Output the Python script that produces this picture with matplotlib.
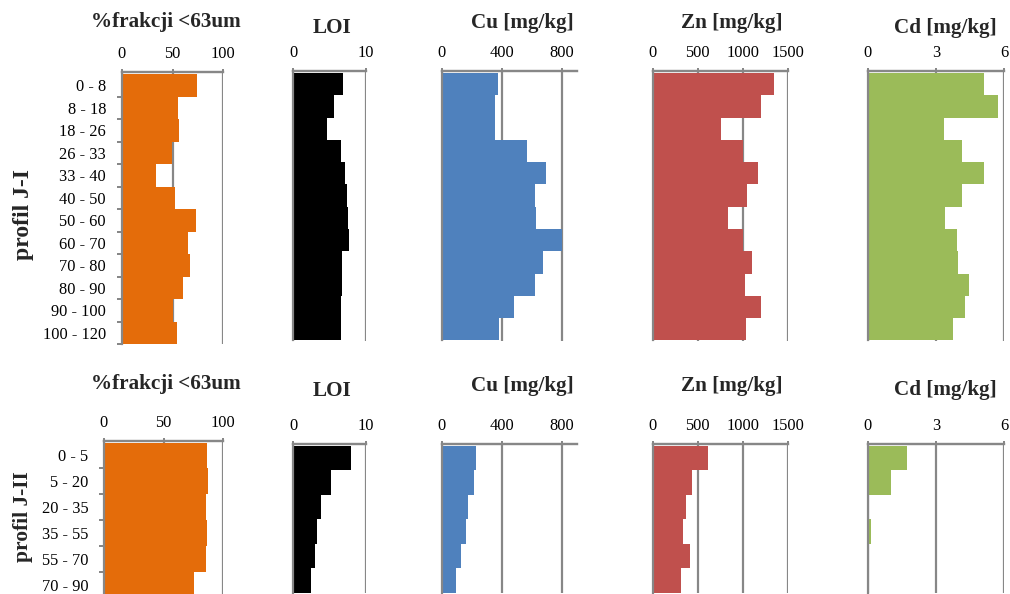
import matplotlib
matplotlib.use("Agg")
import matplotlib.pyplot as plt
import numpy as np

plt.rcParams['font.family'] = ['Liberation Serif', 'DejaVu Serif']

W, H = 1010, 594

# ---------------- data ----------------
cats1 = ["0 - 8", "8 - 18", "18 - 26", "26 - 33", "33 - 40", "40 - 50",
         "50 - 60", "60 - 70", "70 - 80", "80 - 90", "90 - 100", "100 - 120"]
frak1 = [73.8, 55.7, 56.1, 49.2, 34.1, 52.5, 72.8, 65.0, 67.2, 60.6, 50.8, 54.1]
loi1 = [6.9, 5.6, 4.7, 6.6, 7.15, 7.4, 7.55, 7.7, 6.65, 6.75, 6.6, 6.5]
cu1 = [372, 357, 357, 569, 691, 622, 624, 800, 676, 622, 483, 383]
zn1 = [1348, 1197, 757, 1005, 1171, 1042, 831, 997, 1101, 1023, 1197, 1031]
cd1 = [5.13, 5.72, 3.35, 4.16, 5.10, 4.16, 3.40, 3.91, 3.97, 4.47, 4.29, 3.75]

cats2 = ["0 - 5", "5 - 20", "20 - 35", "35 - 55", "55 - 70", "70 - 90"]
frak2 = [86.3, 87.2, 85.2, 86.3, 85.8, 75.4]
loi2 = [7.9, 5.2, 3.77, 3.25, 3.05, 2.4]
cu2 = [229, 213, 175, 159, 130, 95]
zn2 = [609, 435, 371, 339, 408, 313]
cd2 = [1.73, 1.03, 0.0, 0.15, 0.0, 0.0]

titles = ["%frakcji <63um", "LOI", "Cu [mg/kg]", "Zn [mg/kg]", "Cd [mg/kg]"]
xlims = [100, 10, 900, 1500, 6]
xticks = [[0, 50, 100], [0, 10], [0, 400, 800], [0, 500, 1000, 1500], [0, 3, 6]]
colors = ["#E46C0A", "#000000", "#4F81BD", "#C0504D", "#9BBB59"]
row_labels = ["profil J-I", "profil J-II"]

GRAY = "#878787"
PT = 72.0 / 100.0  # points per pixel


def panel(left, right, spine_top, cat_top, bottom, values, xmax, ticks, color, labels=None):
    n = len(values)
    ax = fig.add_axes([left / W, 1 - bottom / H, (right - left) / W, (bottom - spine_top) / H])
    s = (bottom - cat_top) / n
    pos = np.arange(n)
    ax.barh(pos, values, height=1.0, color=color, linewidth=0, zorder=2)
    ax.set_xlim(0, xmax)
    ax.set_ylim(n - 0.5, -0.5 - (cat_top - spine_top) / s)
    ax.set_axisbelow(True)
    for sp in ("right", "bottom"):
        ax.spines[sp].set_visible(False)
    ax.spines["top"].set_color(GRAY)
    ax.spines["top"].set_linewidth(2.4 * PT)
    ax.spines["left"].set_color(GRAY)
    ax.spines["left"].set_linewidth(2.2 * PT)
    ax.xaxis.tick_top()
    ax.set_xticks(ticks)
    ax.set_xticklabels([str(t) for t in ticks])
    ax.tick_params(axis="x", which="major", top=True, bottom=False, length=3 * PT * 1.0,
                   width=2 * PT, color=GRAY, pad=5, labelsize=11.8, labelcolor="black")
    ax.grid(axis="x", color=GRAY, linewidth=2.2 * PT)
    ax.grid(axis="y", visible=False)
    if labels is not None:
        ax.set_yticks(pos)
        ax.set_yticklabels(labels)
        ax.set_yticks(np.arange(n) + 0.5, minor=True)
        ax.tick_params(axis="y", which="major", length=0, pad=11.3, labelsize=11.8)
        ax.tick_params(axis="y", which="minor", length=5 * PT, width=2 * PT, color=GRAY, left=True)
    else:
        ax.set_yticks([])
    return ax


fig = plt.figure(figsize=(W / 100, H / 100), dpi=100)

# column geometry (pixel positions of 0 and xmax)
cols = [None, (293.3, 366.0), (441.7, 577.0), (652.7, 788.0), (868.0, 1004.0)]

# row 1
row1 = [frak1, loi1, cu1, zn1, cd1]
panel(121.7, 223.3, 71.7, 74.2, 344.0, row1[0], xlims[0], xticks[0], colors[0], cats1)
for i in range(1, 5):
    panel(cols[i][0], cols[i][1], 71.0, 73.0, 340.5, row1[i], xlims[i], xticks[i], colors[i])

# row 2
row2 = [frak2, loi2, cu2, zn2, cd2]
panel(104.0, 223.3, 440.7, 442.5, 597.5, row2[0], xlims[0], xticks[0], colors[0], cats2)
for i in range(1, 5):
    panel(cols[i][0], cols[i][1], 444.0, 445.5, 592.5, row2[i], xlims[i], xticks[i], colors[i])

# titles
tx = [166, 332, 522, 732, 945.5]
ty1 = [27.5, 33.3, 27.7, 28.3, 33.3]
ty2 = [389.3, 396, 391, 391, 395]
for t, x, y1, y2 in zip(titles, tx, ty1, ty2):
    fig.text(x / W, 1 - y1 / H, t, ha="center", va="baseline", fontsize=15.2,
             fontweight="bold", color="#262626")
    fig.text(x / W, 1 - y2 / H, t, ha="center", va="baseline", fontsize=15.2,
             fontweight="bold", color="#262626")

fig.text(23 / W, 1 - 215 / H, row_labels[0], rotation=90, ha="center", va="center",
         fontsize=17, fontweight="bold", color="#262626")
fig.text(23 / W, 1 - 516.5 / H, row_labels[1], rotation=90, ha="center", va="center",
         fontsize=15.5, fontweight="bold", color="#262626")

fig.savefig("out.png", dpi=100)
